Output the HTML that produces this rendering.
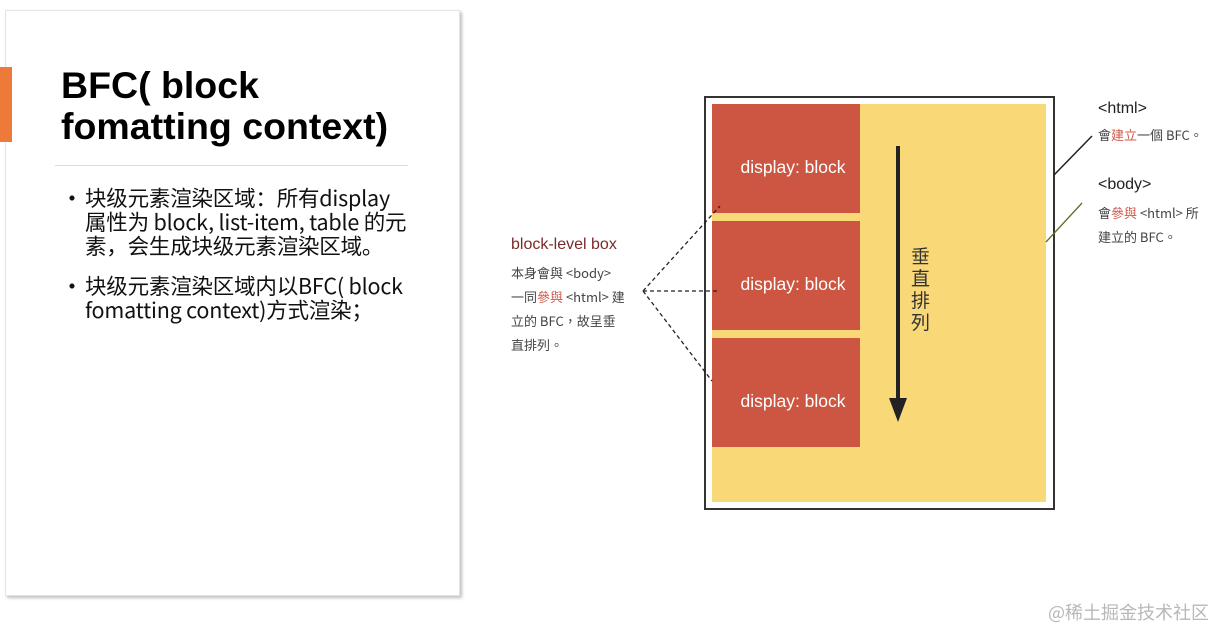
<!DOCTYPE html>
<html><head><meta charset="utf-8"><style>
body{margin:0;width:1229px;height:642px;background:#fff;position:relative;overflow:hidden;font-family:"Liberation Sans","Noto Sans CJK SC",sans-serif}
.a{position:absolute;white-space:nowrap}
.card{position:absolute;left:5px;top:10px;width:453px;height:584px;background:#fff;border:1px solid #e4e4e4;box-shadow:2px 2px 3px rgba(0,0,0,.25)}
.t{font-weight:bold;font-size:37.5px;line-height:41px;color:#000}
.b{font-size:21.5px;line-height:24px;color:#111;font-family:"Noto Sans CJK SC",sans-serif;letter-spacing:-0.2px}
.red{position:absolute;left:712px;width:148px;height:109px;background:#cc5641;color:#fff;font-size:17.5px;display:flex;align-items:center;justify-content:center;padding-left:14px;padding-top:18px;box-sizing:border-box}
.s{font-size:13px;color:#444;font-family:"Noto Sans CJK TC",sans-serif}
.r{color:#d05a4a}
</style></head><body>
<div class="card"></div>
<div class="a" style="left:0;top:67px;width:12px;height:75px;background:#ee7a3a"></div>
<div class="a t" style="left:61px;top:65px">BFC( block<br>fomatting context)</div>
<div class="a" style="left:55px;top:165px;width:353px;height:1px;background:#ddd"></div>
<div class="a b" style="left:60px;top:185px;font-size:24px">•</div>
<div class="a b" style="left:85px;top:186px">块级元素渲染区域：所有display<br>属性为 block, list-item, table 的元<br>素，会生成块级元素渲染区域。</div>
<div class="a b" style="left:60px;top:273px;font-size:24px">•</div>
<div class="a b" style="left:85px;top:274px">块级元素渲染区域内以BFC( block<br>fomatting context)方式渲染；</div>

<div class="a" style="left:704px;top:96px;width:347px;height:410px;border:2px solid #333"></div>
<div class="a" style="left:712px;top:104px;width:334px;height:398px;background:#f9d878"></div>
<div class="red" style="top:104px">display: block</div>
<div class="red" style="top:221px">display: block</div>
<div class="red" style="top:338px">display: block</div>
<div class="a" style="left:911px;top:245px;font-size:19px;line-height:22px;color:#333;font-family:'Noto Sans CJK TC',sans-serif;white-space:normal;width:20px">垂直排列</div>
<svg class="a" style="left:0;top:0" width="1229" height="642">
<line x1="898" y1="146" x2="898" y2="405" stroke="#222" stroke-width="4"/>
<polygon points="889,398 907,398 898,422" fill="#222"/>
<g stroke="#222" stroke-width="1.3" stroke-dasharray="4,3" fill="none">
<line x1="643" y1="291" x2="720" y2="206"/>
<line x1="643" y1="291" x2="720" y2="291"/>
<line x1="643" y1="291" x2="712" y2="381"/>
</g>
<line x1="1054" y1="175" x2="1092" y2="136" stroke="#222" stroke-width="1.5"/>
<line x1="1046" y1="242" x2="1082" y2="203" stroke="#6b6b2a" stroke-width="1.3"/>
</svg>
<div class="a" style="left:511px;top:236px;font-size:16px;color:#7a2a2a">block-level box</div>
<div class="a s" style="left:511px;top:261px;line-height:24px">本身會與 &lt;body&gt;<br>一同<span class="r">參與</span> &lt;html&gt; 建<br>立的 BFC，故呈垂<br>直排列。</div>
<div class="a" style="left:1098px;top:100px;font-size:16px;color:#222">&lt;html&gt;</div>
<div class="a s" style="left:1098px;top:125px">會<span class="r">建立</span>一個 BFC。</div>
<div class="a" style="left:1098px;top:176px;font-size:16px;color:#222">&lt;body&gt;</div>
<div class="a s" style="left:1098px;top:201px;line-height:24px">會<span class="r">參與</span> &lt;html&gt; 所<br>建立的 BFC。</div>
<div class="a" style="left:1048px;top:599px;font-size:18px;color:#b8b8b8;font-family:'Noto Sans CJK SC',sans-serif">@稀土掘金技术社区</div>
</body></html>
